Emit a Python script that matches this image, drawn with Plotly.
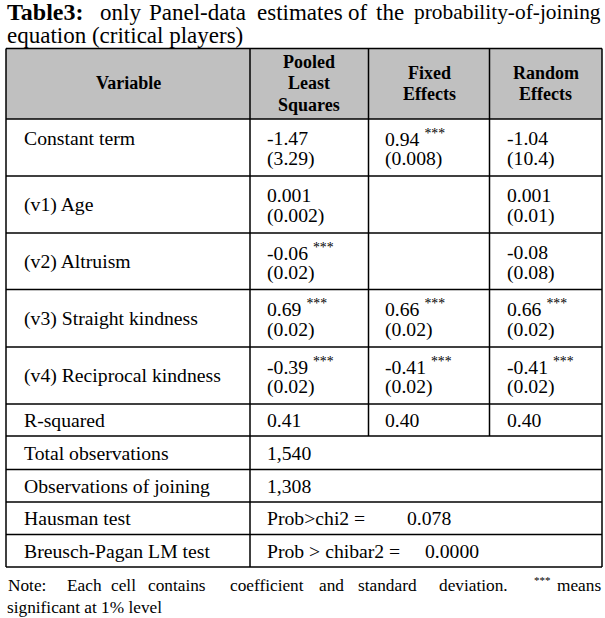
import plotly.graph_objects as go

# ---------------- data ----------------
variables = ["Constant term", "(v1) Age", "(v2) Altruism",
             "(v3) Straight kindness", "(v4) Reciprocal kindness"]
pls_coef = ["-1.47", "0.001", "-0.06", "0.69", "-0.39"]
pls_se = ["(3.29)", "(0.002)", "(0.02)", "(0.02)", "(0.02)"]
pls_sig = [False, False, True, True, True]
fe_coef = ["0.94", "", "", "0.66", "-0.41"]
fe_se = ["(0.008)", "", "", "(0.02)", "(0.02)"]
fe_sig = [True, False, False, True, True]
re_coef = ["-1.04", "0.001", "-0.08", "0.66", "-0.41"]
re_se = ["(10.4)", "(0.01)", "(0.08)", "(0.02)", "(0.02)"]
re_sig = [False, False, False, True, True]
r_squared = ["0.41", "0.40", "0.40"]
stat_labels = ["Total observations", "Observations of joining",
               "Hausman test", "Breusch-Pagan LM test"]
stat_prefix = ["1,540", "1,308", "Prob>chi2 =", "Prob > chibar2 ="]
stat_values = ["", "", "0.078", "0.0000"]
header_lines = [["Variable"], ["Pooled", "Least", "Squares"],
                ["Fixed", "Effects"], ["Random", "Effects"]]
title_words = ["<b>Table3:</b>", "only", "Panel-data", "estimates", "of", "the",
               "probability-of-joining"]
title_line2 = "equation (critical players)"
note_words = ["Note:", "Each", "cell", "contains", "coefficient", "and",
              "standard", "deviation.", "***", "means"]
note_line2 = "significant at 1% level"

# ---------------- layout geometry ----------------
W, H = 605, 618
FONT = "Liberation Serif, Times New Roman, serif"
col_x = [6, 250, 368.5, 489.5, 602]
row_y = [48.5, 119, 176, 233, 289.5, 347, 404, 436, 469.5, 502, 534.5, 567]
text_x = [22, 265, 383, 505]
BODY = 19.7
HEAD = 18
TITLE = 23
NOTE = 17.3
STAR = 11

fig = go.Figure()
shapes = []
ann = []

def text(x, y, s, size=BODY, anchor="left"):
    ann.append(dict(x=x, y=y, xref="x", yref="y", text=s, showarrow=False,
                    xanchor=anchor, yanchor="middle",
                    font=dict(family=FONT, size=size, color="#000000")))

# header fill
shapes.append(dict(type="rect", x0=col_x[0], x1=col_x[-1], y0=row_y[0], y1=row_y[1],
                   fillcolor="#C0C0C0", line=dict(width=0), layer="below"))
# horizontal lines
for y in row_y:
    shapes.append(dict(type="line", x0=col_x[0], x1=col_x[-1], y0=y, y1=y,
                       line=dict(color="#000000", width=1.5)))
# vertical lines
for i, x in enumerate(col_x):
    y1 = row_y[-1] if i in (0, 1, 4) else row_y[7]
    shapes.append(dict(type="line", x0=x, x1=x, y0=row_y[0], y1=y1,
                       line=dict(color="#000000", width=1.5)))

# header text
for c, lines in enumerate(header_lines):
    cx = (col_x[c] + col_x[c + 1]) / 2
    mid = (row_y[0] + row_y[1]) / 2 - 0.5
    n = len(lines)
    for k, s in enumerate(lines):
        y = mid + (k - (n - 1) / 2) * 21.5
        text(cx, y, "<b>" + s + "</b>", size=HEAD, anchor="center")

# coefficient rows
cols = [(pls_coef, pls_se, pls_sig), (fe_coef, fe_se, fe_sig), (re_coef, re_se, re_sig)]
for r, name in enumerate(variables):
    top, bot = row_y[1 + r], row_y[2 + r]
    y1, y2 = top + 18.5, top + 39.5
    label_y = y1 if r == 0 else (top + bot) / 2
    text(text_x[0], label_y, name)
    for c, (coef, se, sig) in enumerate(cols):
        if coef[r]:
            s = coef[r] + (" <sup>***</sup>" if sig[r] else "")
            text(text_x[c + 1], y1, s)
            text(text_x[c + 1], y2, se[r])

# R-squared
ry = (row_y[6] + row_y[7]) / 2
text(text_x[0], ry, "R-squared")
for c, v in enumerate(r_squared):
    text(text_x[c + 1], ry, v)

# statistics rows
value_x = [None, None, 405, 423]
for i, lab in enumerate(stat_labels):
    y = (row_y[7 + i] + row_y[8 + i]) / 2
    text(text_x[0], y, lab)
    text(text_x[1], y, stat_prefix[i])
    if stat_values[i]:
        text(value_x[i], y, stat_values[i])

# title (justified line)
title_x = [5, 98, 147, 255, 346, 374, 603]
title_sizes = [TITLE + 1, TITLE, TITLE, TITLE, TITLE, TITLE, TITLE - 1.6]
for i, w in enumerate(title_words):
    text(title_x[i], 12, w, size=title_sizes[i],
         anchor="right" if i == len(title_words) - 1 else "left")
text(5, 35, title_line2, size=TITLE)

# note (justified line)
note_x = [6, 65, 109, 146, 228, 317, 356, 437, 532, 603]
for i, w in enumerate(note_words):
    if w == "***":
        text(note_x[i], 580, w, size=STAR)
    else:
        text(note_x[i], 585, w, size=NOTE,
             anchor="right" if i == len(note_words) - 1 else "left")
text(5, 607, note_line2, size=NOTE)

fig.update_layout(
    width=W, height=H, margin=dict(l=0, r=0, t=0, b=0),
    paper_bgcolor="white", plot_bgcolor="white",
    xaxis=dict(range=[0, W], visible=False, fixedrange=True),
    yaxis=dict(range=[H, 0], visible=False, fixedrange=True),
    shapes=shapes, annotations=ann, showlegend=False,
)
fig.write_html("out.html", config={"displayModeBar": False},
               post_script="document.body.style.margin='0';document.body.style.overflow='hidden';")
